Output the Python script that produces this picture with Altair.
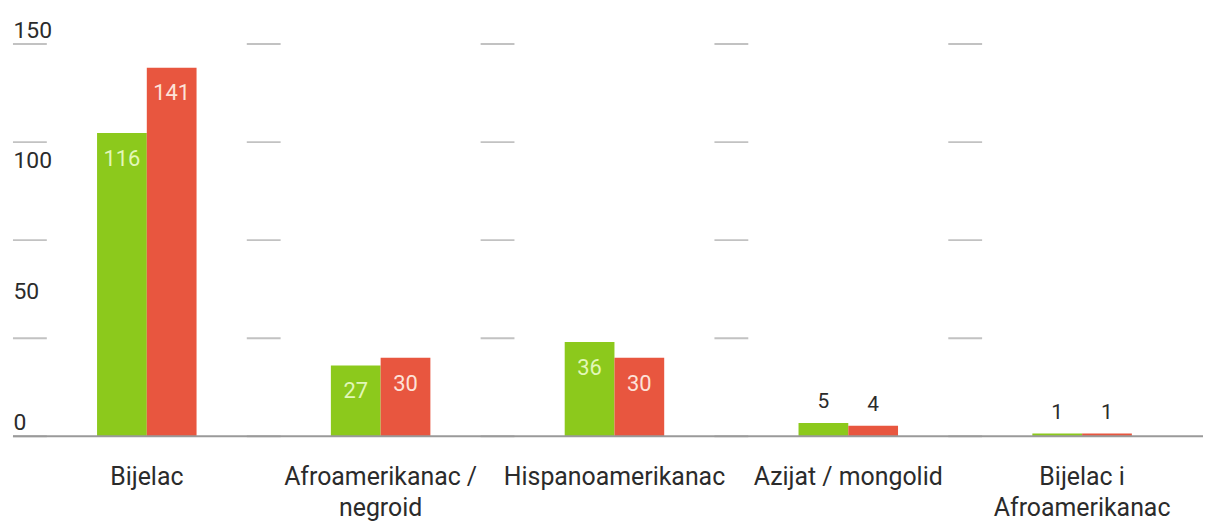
import altair as alt
import pandas as pd

categories = ["Bijelac", "Afroamerikanac /\nnegroid", "Hispanoamerikanac",
              "Azijat / mongolid", "Bijelac i\nAfroamerikanac"]
series_names = ["Serija 1", "Serija 2"]
values_green = [116, 27, 36, 5, 1]
values_red = [141, 30, 30, 4, 1]
y_labels = [0, 50, 100, 150]
dash_levels = [0, 37.5, 75, 112.5, 150]

rows = []
for c, g, r in zip(categories, values_green, values_red):
    rows.append({"cat": c, "series": series_names[0], "value": g})
    rows.append({"cat": c, "series": series_names[1], "value": r})
df = pd.DataFrame(rows)

dash_df = pd.DataFrame([{"cat": c, "lvl": l} for c in categories for l in dash_levels])

FONT = "Roboto"
GREEN = "#8cc91c"
RED = "#e8563f"

PLOT_W = 1175
BAND = PLOT_W / len(categories)
xscale = alt.Scale(domain=categories, paddingInner=0, paddingOuter=0)
yscale = alt.Scale(domain=[0, 150], nice=False, zero=True)
offscale = alt.Scale(domain=series_names, range=[BAND / 2 - 50, BAND / 2 + 50],
                     paddingInner=0, paddingOuter=0)

x_enc = alt.X("cat:N", scale=xscale, sort=categories,
              axis=alt.Axis(title=None, labelAngle=0, labelAlign="center",
                            domain=False, ticks=False, labelLimit=400,
                            tickSize=0, labelPadding=41, labelFontSize=25,
                            labelFont=FONT, labelColor="#2b2b2b",
                            labelLineHeight=31, labelBaseline="middle",
                            labelExpr="split(datum.label, '\\n')"))

bars = alt.Chart(df).mark_bar().encode(
    x=x_enc,
    xOffset=alt.XOffset("series:N", scale=offscale),
    y=alt.Y("value:Q", scale=yscale,
            axis=alt.Axis(title=None, values=y_labels, labelAlign="left",
                          labelPadding=17, ticks=False, tickSize=0,
                          domain=False, grid=False, labelOffset=-7,
                          labelBaseline="alphabetic", labelFontSize=23,
                          labelFont=FONT, labelColor="#2b2b2b", labelFlush=False)),
    color=alt.Color("series:N", scale=alt.Scale(domain=series_names, range=[GREEN, RED]),
                    legend=None),
)

dashes = alt.Chart(dash_df).mark_tick(size=34, thickness=2, color="#a8a8a8",
                                      xOffset=-BAND / 2).encode(
    x=alt.X("cat:N", scale=xscale, sort=categories),
    y=alt.Y("lvl:Q", scale=yscale),
)

baseline = alt.Chart(pd.DataFrame({"v": [0]})).mark_rule(color="#9a9a9a", strokeWidth=2).encode(
    y=alt.Y("v:Q", scale=yscale),
    x=alt.value(-17),
    x2=alt.value(PLOT_W + 10),
)

inside = alt.Chart(df).transform_filter(alt.datum.value >= 10).mark_text(
    baseline="middle", dy=26, fontSize=22, font=FONT
).encode(
    x=alt.X("cat:N", scale=xscale, sort=categories),
    xOffset=alt.XOffset("series:N", scale=offscale),
    y=alt.Y("value:Q", scale=yscale),
    text=alt.Text("value:Q"),
    color=alt.condition(alt.datum.series == series_names[0],
                        alt.value("#e2f7b8"), alt.value("#fde2d8")),
)

outside = alt.Chart(df).transform_filter(alt.datum.value < 10).mark_text(
    baseline="middle", dy=-21, fontSize=21, font=FONT, color="#2b2b2b"
).encode(
    x=alt.X("cat:N", scale=xscale, sort=categories),
    xOffset=alt.XOffset("series:N", scale=offscale),
    y=alt.Y("value:Q", scale=yscale),
    text=alt.Text("value:Q"),
)

chart = alt.layer(dashes, bars, baseline, inside, outside).properties(
    width=PLOT_W, height=394,
    autosize=alt.AutoSizeParams(type="none"),
    padding={"left": 22, "top": 35, "right": 4, "bottom": 87},
).configure(background="white").configure_view(stroke=None)

chart.save("out.html", embed_options={"renderer": "svg", "actions": False})
